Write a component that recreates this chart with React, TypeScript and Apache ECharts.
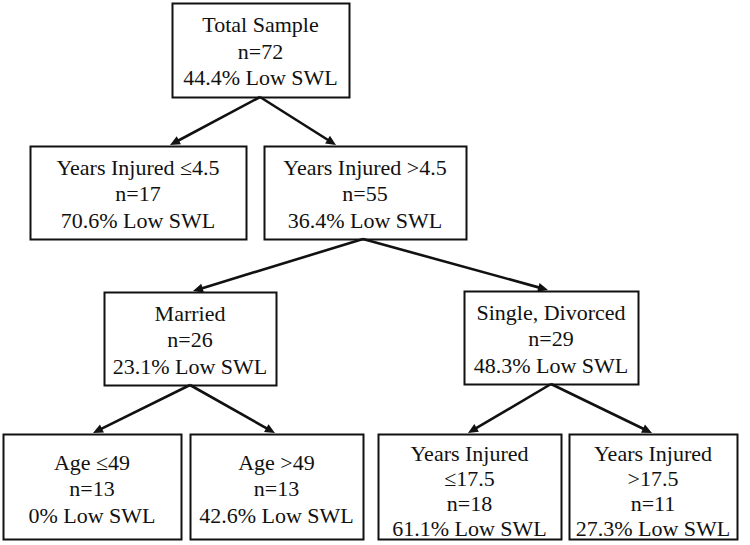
import React, { useEffect, useRef } from "react";
import * as echarts from "echarts";

// ---- data ----
const nodeTitles: string[][] = [
  ["Total Sample"],
  ["Years Injured ≤4.5"],
  ["Years Injured >4.5"],
  ["Married"],
  ["Single, Divorced"],
  ["Age ≤49"],
  ["Age >49"],
  ["Years Injured", "≤17.5"],
  ["Years Injured", ">17.5"],
];
const nodeN: number[] = [72, 17, 55, 26, 29, 13, 13, 18, 11];
const lowSwlPct: string[] = ["44.4", "70.6", "36.4", "23.1", "48.3", "0", "42.6", "61.1", "27.3"];
const parentOf: number[] = [-1, 0, 0, 2, 2, 3, 3, 4, 4];

// ---- layout (pixels) ----
const boxes: [number, number, number, number][] = [
  [172, 3, 177, 94],
  [30, 146, 216, 93],
  [264, 146, 202, 93],
  [104, 292, 172, 93],
  [464, 291, 174, 93],
  [3, 434, 178, 105],
  [190, 434, 173, 105],
  [378, 434, 183, 105],
  [569, 434, 168, 105],
];
const arrowTips: [number, number][] = [
  [0, 0],
  [170, 145],
  [336, 145],
  [193, 291],
  [548, 290],
  [93, 433],
  [275, 433],
  [468, 433],
  [652, 433],
];
const startPts: [number, number][] = [
  [260, 97],
  [138, 239],
  [363, 239],
  [190, 385],
  [551, 384],
];

export default function App() {
  const ref = useRef<HTMLDivElement>(null);
  useEffect(() => {
    if (!ref.current) return;
    const chart = echarts.init(ref.current, null, { renderer: "svg" });
    const elements: any[] = [];

    boxes.forEach(([x, y, w, h], i) => {
      elements.push({
        type: "rect",
        shape: { x: x + 0.5, y: y + 0.5, width: w, height: h },
        style: { fill: "#fff", stroke: "#111", lineWidth: 2 },
      });
      const lines = [...nodeTitles[i], `n=${nodeN[i]}`, `${lowSwlPct[i]}% Low SWL`];
      const four = lines.length === 4;
      const lh = four ? 25 : 26.5;
      const cy = y + h / 2 + (four ? 4 : h > 100 ? 2 : 1);
      lines.forEach((t, k) => {
        elements.push({
          type: "text",
          x: x + w / 2,
          y: cy + (k - (lines.length - 1) / 2) * lh,
          style: {
            text: t,
            font: "22px Liberation Serif",
            align: "center",
            verticalAlign: "middle",
            fill: "#111",
          },
        });
      });
    });

    parentOf.forEach((p, i) => {
      if (p < 0) return;
      const [sx, sy] = startPts[p];
      const [tx, ty] = arrowTips[i];
      const dx = tx - sx;
      const dy = ty - sy;
      const len = Math.sqrt(dx * dx + dy * dy);
      const ux = dx / len;
      const uy = dy / len;
      const aL = 10;
      const aW = 4.5;
      const bx = tx - ux * aL;
      const by = ty - uy * aL;
      elements.push({
        type: "line",
        shape: { x1: sx, y1: sy, x2: bx + ux * 2, y2: by + uy * 2 },
        style: { stroke: "#111", lineWidth: 2.6 },
      });
      elements.push({
        type: "polygon",
        shape: {
          points: [
            [tx, ty],
            [bx - uy * aW, by + ux * aW],
            [bx + uy * aW, by - ux * aW],
          ],
        },
        style: { fill: "#111" },
      });
    });

    chart.setOption({
      animation: false,
      backgroundColor: "#fff",
      graphic: { elements },
    });
    return () => chart.dispose();
  }, []);
  return (
    <div
      ref={ref}
      style={{ position: "absolute", left: 0, top: 0, width: 750, height: 545 }}
    />
  );
}
